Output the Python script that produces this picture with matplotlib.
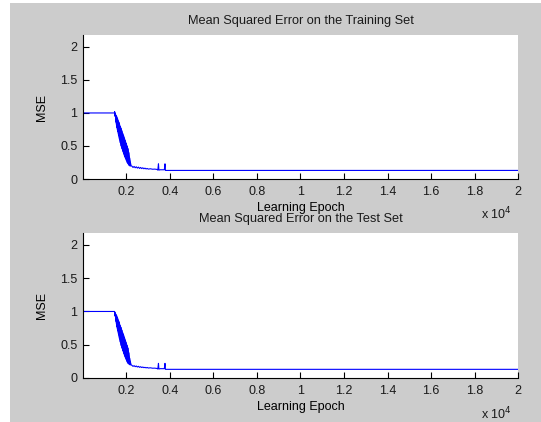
import matplotlib.pyplot as plt
from matplotlib.patches import Rectangle

# epochs / MSE
train_epoch = [0, 1, 1440, 1455, 1470, 1485,
               1500, 1520, 1540, 1560, 1580, 1600, 1620, 1640, 1660, 1680,
               1700, 1720, 1740, 1760, 1780, 1800, 1820, 1840, 1860, 1880,
               1900, 1920, 1940, 1960, 1980, 2000, 2020, 2040, 2060, 2080,
               2100, 2120, 2140, 2160, 2180, 2200,
               2250, 2300, 2350, 2400, 2450, 2500, 2550, 2600, 2650, 2700,
               2750, 2800, 2850, 2900, 2950, 3000, 3100, 3200, 3300, 3400,
               3440, 3470, 3490, 3550, 3600, 3740, 3770, 3790, 3850, 20000]
train_mse = [3.0, 1.0, 1.0, 1.02, 0.95, 1.0,
             0.97, 0.86, 0.95, 0.78, 0.92, 0.72, 0.88, 0.66, 0.85, 0.60,
             0.80, 0.55, 0.77, 0.50, 0.73, 0.46, 0.69, 0.42, 0.66, 0.38,
             0.62, 0.34, 0.58, 0.31, 0.54, 0.28, 0.50, 0.25, 0.46, 0.23,
             0.40, 0.21, 0.32, 0.20, 0.25, 0.20,
             0.195, 0.175, 0.19, 0.17, 0.185, 0.165, 0.18, 0.16, 0.175, 0.158,
             0.17, 0.155, 0.165, 0.152, 0.16, 0.15, 0.155, 0.148, 0.15, 0.145,
             0.135, 0.23, 0.135, 0.14, 0.14, 0.14, 0.23, 0.13, 0.13, 0.13]

test_epoch = [0, 1440, 1455, 1470, 1485,
              1500, 1520, 1540, 1560, 1580, 1600, 1620, 1640, 1660, 1680,
              1700, 1720, 1740, 1760, 1780, 1800, 1820, 1840, 1860, 1880,
              1900, 1920, 1940, 1960, 1980, 2000, 2020, 2040, 2060, 2080,
              2100, 2120, 2140, 2160, 2180, 2200,
              2250, 2300, 2350, 2400, 2450, 2500, 2550, 2600, 2650, 2700,
              2750, 2800, 2850, 2900, 2950, 3000, 3100, 3200, 3300, 3400,
              3440, 3470, 3490, 3550, 3600, 3740, 3770, 3790, 3850, 20000]
test_mse = [1.0, 1.0, 1.0, 0.93, 0.98,
            0.96, 0.85, 0.94, 0.77, 0.91, 0.71, 0.87, 0.65, 0.84, 0.59,
            0.79, 0.54, 0.76, 0.49, 0.72, 0.45, 0.68, 0.41, 0.65, 0.37,
            0.61, 0.33, 0.57, 0.30, 0.53, 0.27, 0.49, 0.24, 0.45, 0.22,
            0.38, 0.21, 0.30, 0.20, 0.24, 0.20,
            0.19, 0.175, 0.185, 0.17, 0.18, 0.165, 0.175, 0.16, 0.17, 0.157,
            0.165, 0.155, 0.16, 0.152, 0.158, 0.15, 0.153, 0.147, 0.148, 0.143,
            0.135, 0.22, 0.135, 0.14, 0.14, 0.14, 0.22, 0.13, 0.13, 0.13]

xticks = [2000, 4000, 6000, 8000, 10000, 12000, 14000, 16000, 18000, 20000]
xticklabels = ['0.2', '0.4', '0.6', '0.8', '1', '1.2', '1.4', '1.6', '1.8', '2']
yticks = [0, 0.5, 1, 1.5, 2]
yticklabels = ['0', '0.5', '1', '1.5', '2']

plt.rcParams['font.family'] = ['Liberation Sans', 'DejaVu Sans']
plt.rcParams['text.color'] = '#1a1a1a'
plt.rcParams['path.simplify'] = False

fig = plt.figure(figsize=(5.41, 4.22), dpi=100)
fig.patches.append(Rectangle((10 / 541, 0), 1, 419 / 422, transform=fig.transFigure,
                             facecolor='#cccccc', edgecolor='none', zorder=-10))

ax1 = fig.add_axes([0.1534, 0.5758, 0.8041, 0.3412])
ax2 = fig.add_axes([0.1534, 0.1043, 0.8041, 0.3436])

panels = [(ax1, train_epoch, train_mse, 'Mean Squared Error on the Training Set'),
          (ax2, test_epoch, test_mse, 'Mean Squared Error on the Test Set')]

for ax, ep, mse, title in panels:
    ax.plot(ep, mse, color='#0000ff', linewidth=0.8)

    # the oscillating part is so dense it shows as a solid band:
    # fill between its peaks and troughs
    i0, i1 = ep.index(1500), ep.index(2200) + 1
    hi_e, hi_m = ep[i0:i1:2], mse[i0:i1:2]
    lo_e, lo_m = ep[i0 + 1:i1:2], mse[i0 + 1:i1:2]
    ax.fill(hi_e + lo_e[::-1], hi_m + lo_m[::-1], color='#0000ff', linewidth=0.8)

    ax.set_xlim(0, 20000)
    ax.set_ylim(0, 2.18)
    ax.set_xticks(xticks)
    ax.set_xticklabels(xticklabels)
    ax.set_yticks(yticks)
    ax.set_yticklabels(yticklabels)
    ax.tick_params(axis='x', direction='in', length=4, width=0.8, pad=5,
                   labelsize=9, labelcolor='#1a1a1a')
    ax.tick_params(axis='y', direction='in', length=4, width=0.8, pad=4,
                   labelsize=9, labelcolor='#1a1a1a')
    ax.spines['top'].set_visible(False)
    ax.spines['right'].set_visible(False)
    ax.spines['left'].set_linewidth(0.8)
    ax.spines['bottom'].set_linewidth(0.8)
    ax.set_xlabel('Learning Epoch', fontsize=9, labelpad=3)
    ax.set_ylabel('MSE', fontsize=9, labelpad=9)
    ax.set_title(title, fontsize=9.2, pad=8)
    ax.text(0.95, -0.245, r'x 10$^4$', transform=ax.transAxes,
            ha='center', va='center', fontsize=9)

fig.savefig('out.png', dpi=100)
